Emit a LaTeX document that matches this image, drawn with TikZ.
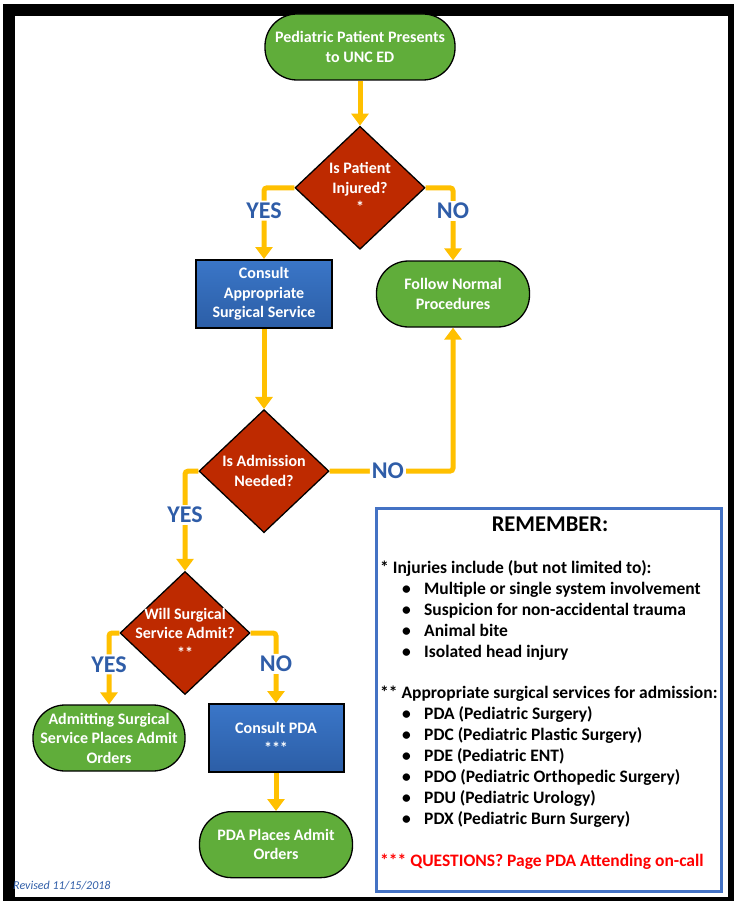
\documentclass[tikz,border=0pt]{standalone}
\usepackage{fontspec}
\setmainfont{Carlito}
\usetikzlibrary{arrows.meta,positioning,shapes.geometric}

\definecolor{termgreen}{RGB}{96,173,58}
\definecolor{decred}{RGB}{190,42,0}
\definecolor{procblue}{RGB}{44,94,166}
\definecolor{procbluelt}{RGB}{58,118,200}
\definecolor{flowgold}{RGB}{255,192,0}
\definecolor{lblblue}{RGB}{47,93,168}
\definecolor{remblue}{RGB}{68,114,196}
\definecolor{qred}{RGB}{255,0,0}

\newcommand{\itm}[1]{\hspace*{22pt}\makebox[22pt][l]{\textbullet}#1}

\begin{document}
\begin{tikzpicture}[
  x=1pt, y=-1pt,
  font=\bfseries\fontsize{16}{19.5}\selectfont,
  term/.style={draw=black, line width=1.3pt, fill=termgreen, text=white, align=center, rounded corners=32pt, minimum height=66pt, inner sep=2pt},
  proc/.style={draw=black, line width=2pt, top color=procbluelt, bottom color=procblue, text=white, align=center, minimum width=136pt, minimum height=68pt, inner sep=2pt},
  decide/.style={diamond, draw=black, line width=1.3pt, fill=decred, text=white, align=center, minimum width=130pt, minimum height=123pt, inner sep=-12pt},
  flow/.style={draw=flowgold, line width=5pt, -{Triangle[width=17pt,length=12pt]}, rounded corners=3pt},
  answer/.style={fill=white, text=lblblue, font=\bfseries\fontsize{24}{24}\selectfont, inner sep=2pt},
  note/.style={align=left, inner sep=0pt, font=\bfseries\fontsize{17.5}{21}\selectfont}
]
\useasboundingbox (0,0) rectangle (734,901);

% page frame
\fill[black] (3,4) rectangle (734,901);
\fill[white] (15,16) rectangle (728,897);

% flow chart
\node[term, minimum width=190pt] (start) at (360,47) {Pediatric Patient Presents\\to UNC ED};
\node[decide, below=45pt of start] (injured) {Is Patient\\Injured?\\*};
\node[proc] (consult) at (264,294) {Consult\\Appropriate\\Surgical Service};
\node[term, minimum width=153pt] (normal) at (453,294) {Follow Normal\\Procedures};
\node[decide, below=80pt of consult] (admission) {Is Admission\\Needed?};
\node[decide] (willadmit) at (185,633) {Will Surgical\\Service Admit?\\**};
\node[term, minimum width=152pt] (admitting) at (109,738) {Admitting Surgical\\Service Places Admit\\Orders};
\node[proc, minimum width=135pt] (consultpda) at (276,738) {Consult PDA\\***};
\node[term, minimum width=153pt, below=38pt of consultpda] (pdaorders) {PDA Places Admit\\Orders};

\draw[flow] (start) -- (injured);
\draw[flow] (injured.west) -| node[answer, pos=0.66] {YES} (consult);
\draw[flow] (injured.east) -| node[answer, pos=0.66] {NO} (normal);
\draw[flow] (consult) -- (admission);
\draw[flow] (admission.east) -| node[answer, pos=0.236] {NO} (normal);
\draw[flow] (admission.west) -| node[answer, pos=0.72] {YES} (willadmit);
\draw[flow] (willadmit.west) -| node[answer, pos=0.72] {YES} (admitting);
\draw[flow] (willadmit.east) -| node[answer, pos=0.72] {NO} (consultpda);
\draw[flow] (consultpda) -- (pdaorders);

\node[anchor=west, text=lblblue, font=\mdseries\itshape\fontsize{12}{12}\selectfont, inner sep=0pt] (revised) at (13,886) {Revised 11/15/2018};

% reminder panel
\node[draw=remblue, line width=3pt, minimum width=345pt, minimum height=383pt] (rembox) at (549,700) {};
\node[font=\bfseries\fontsize{22.5}{22.5}\selectfont] (remtitle) at (550,524) {REMEMBER:};
\node[note, anchor=north west] (remlist) at (380,560) {%
  * Injuries include (but not limited to):\\
  \itm{Multiple or single system involvement}\\
  \itm{Suspicion for non-accidental trauma}\\
  \itm{Animal bite}\\
  \itm{Isolated head injury}\\[20pt]
  ** Appropriate surgical services for admission:\\
  \itm{PDA (Pediatric Surgery)}\\
  \itm{PDC (Pediatric Plastic Surgery)}\\
  \itm{PDE (Pediatric ENT)}\\
  \itm{PDO (Pediatric Orthopedic Surgery)}\\
  \itm{PDU (Pediatric Urology)}\\
  \itm{PDX (Pediatric Burn Surgery)}};
\node[note, anchor=base west, text=qred] (questions) at (380,866) {*** QUESTIONS? Page PDA Attending on-call};

\end{tikzpicture}
\end{document}
